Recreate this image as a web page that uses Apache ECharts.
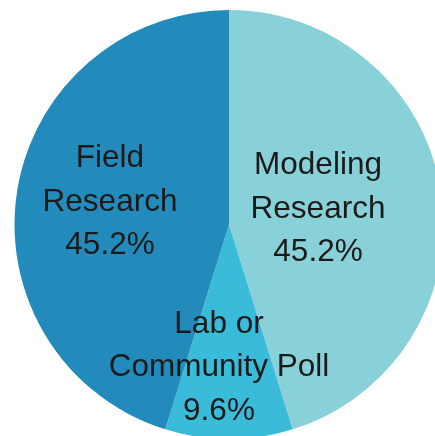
<!DOCTYPE html>
<html>
<head>
<meta charset="utf-8">
<script src="https://cdn.jsdelivr.net/npm/echarts@6/dist/echarts.min.js"></script>
<style>
    html, body { margin: 0; padding: 0; background: #fff; }
    #main { width: 435px; height: 436px; }
</style>
</head>
<body>
<div id="main"></div>
<script type="text/javascript">
    // 数据
    var categories = ['Modeling\nResearch', 'Lab or\nCommunity Poll', 'Field\nResearch'];
    var shares = [45.2, 9.6, 45.2];
    var colors = ['#89d1d8', '#3bbbda', '#238bbb'];
    var labelOffsets = [[-20, 1], [-10, 33], [-10, -6]];

    var myChart = echarts.init(document.getElementById('main'));

    var data = categories.map(function (name, i) {
        return {
            name: name,
            value: shares[i],
            itemStyle: { color: colors[i] },
            label: { offset: labelOffsets[i] }
        };
    });

    var option = {
        animation: false,
        series: [
            {
                type: 'pie',
                center: [229, 224.5],
                radius: 214.5,
                startAngle: 90,
                clockwise: true,
                data: data,
                label: {
                    show: true,
                    position: 'inside',
                    formatter: function (p) { return p.name + '\n' + p.value.toFixed(1) + '%'; },
                    fontFamily: 'Liberation Sans',
                    fontSize: 31.5,
                    lineHeight: 43.5,
                    color: '#1a1a1a'
                },
                labelLine: { show: false },
                itemStyle: { borderWidth: 0 },
                emphasis: { disabled: true }
            }
        ]
    };

    myChart.setOption(option);
</script>
</body>
</html>
